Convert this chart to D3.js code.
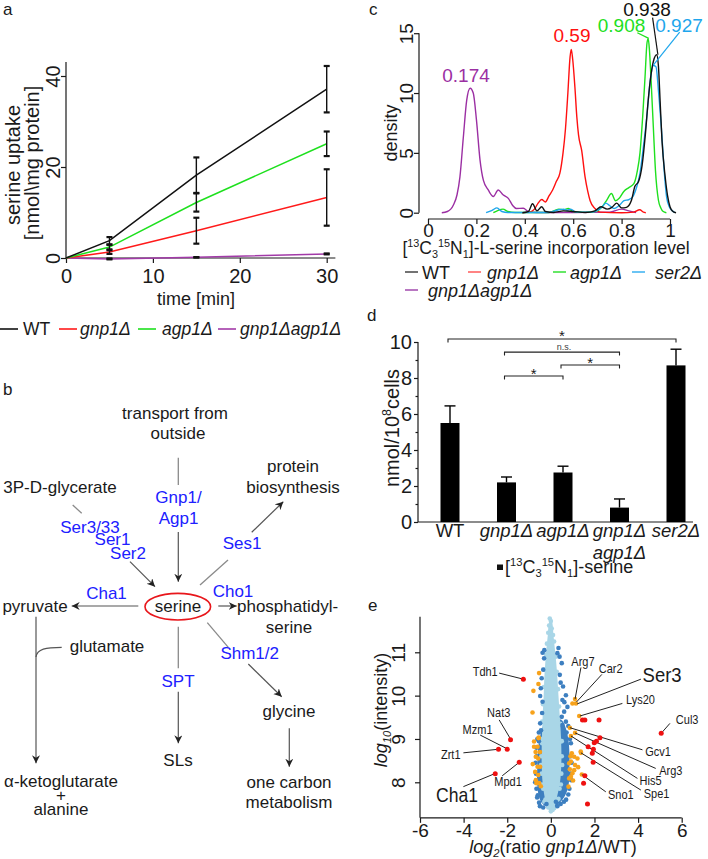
<!DOCTYPE html>
<html><head><meta charset="utf-8">
<script src="https://cdn.jsdelivr.net/npm/d3@7"></script>
<style>
body{margin:0;background:#fff;}
svg{display:block;font-family:"Liberation Sans",Arial,Helvetica,sans-serif;}
</style></head><body>
<svg id="fig" width="708" height="859"></svg>
<script>
// ---------------- DATA ----------------
// panel a: serine uptake time course
const timePoints = [0, 5, 15, 30];
const uptakeNames = ["WT", "gnp1Δ", "agp1Δ", "gnp1Δagp1Δ"];
const uptakeWT = [0, 3.8, 18.2, 37.1];
const uptakeGnp1 = [0, 1.3, 6.0, 13.3];
const uptakeAgp1 = [0, 2.4, 12.2, 25.1];
const uptakeGnp1Agp1 = [0, -0.2, 0.15, 0.9];
const uptakeErrWT = [0, 0.8, 3.9, 5.1];
const uptakeErrGnp1 = [0, 0.4, 2.85, 6.2];
const uptakeErrAgp1 = [0, 0.5, 2.0, 2.7];
const uptakeErrGnp1Agp1 = [0, 0.1, 0.05, 0.1];
const uptakeXTicks = [0, 10, 20, 30];
const uptakeYTicks = [0, 20, 40];

// panel c: density of incorporation level
const densityNames = ["WT", "gnp1Δ", "agp1Δ", "ser2Δ", "gnp1Δagp1Δ"];
const densityWT = [[0.39,0],[0.415,0.1],[0.432,0.75],[0.45,0.15],[0.47,0.5],[0.485,0.1],[0.52,0.02],[0.56,0.15],[0.6,0.1],[0.65,0.02],[0.69,0.15],[0.715,0.5],[0.74,0.3],[0.76,0.45],[0.78,0.8],[0.8,0.4],[0.82,0.45],[0.84,1.0],[0.855,2.2],[0.87,2.6],[0.885,4.0],[0.898,6.5],[0.91,9.4],[0.922,11.6],[0.932,12.7],[0.945,13.2],[0.952,12.3],[0.959,9.4],[0.967,6.0],[0.98,3.0],[0.99,1.4],[1.0,0.5],[1.01,0.15],[1.025,0]];
const densityGnp1 = [[0.39,0],[0.42,0.05],[0.44,0.3],[0.455,0.8],[0.47,1.1],[0.485,0.9],[0.5,1.4],[0.515,1.9],[0.53,2.6],[0.545,3.3],[0.558,5],[0.568,7],[0.578,10],[0.587,13],[0.592,13.65],[0.598,12.8],[0.607,10.5],[0.615,8],[0.622,6.5],[0.635,5.2],[0.649,3.0],[0.66,1.8],[0.67,1.0],[0.69,0.35],[0.71,0.05],[0.8,0.0],[0.85,0.05],[0.875,0.25],[0.89,0.05],[0.9,0]];
const densityAgp1 = [[0.27,0],[0.29,0.2],[0.31,0.3],[0.33,0.1],[0.36,0.02],[0.5,0.02],[0.54,0.3],[0.56,0.25],[0.58,0.35],[0.6,0.1],[0.65,0.03],[0.69,0.1],[0.72,0.5],[0.74,1.1],[0.758,1.6],[0.775,1.0],[0.79,1.2],[0.81,1.8],[0.83,2.1],[0.85,2.4],[0.865,3.5],[0.876,5.0],[0.887,8],[0.897,11.4],[0.905,14.2],[0.91,14.55],[0.915,13.6],[0.922,11],[0.931,7.2],[0.94,3.5],[0.952,1.06],[0.962,0.4],[0.972,0.1],[0.985,0]];
const densitySer2 = [[0.24,0],[0.265,0.2],[0.285,0.4],[0.305,0.1],[0.33,0.02],[0.5,0.02],[0.54,0.25],[0.56,0.3],[0.575,0.2],[0.59,0.3],[0.61,0.05],[0.67,0.05],[0.7,0.2],[0.72,0.5],[0.735,0.8],[0.75,0.6],[0.77,0.35],[0.79,0.6],[0.81,1.0],[0.83,1.1],[0.845,1.3],[0.86,2.0],[0.876,3.3],[0.89,5.5],[0.904,8],[0.917,10.8],[0.931,12.3],[0.942,12.2],[0.953,10],[0.966,6.6],[0.976,3.5],[0.986,1.3],[0.997,0.5],[1.007,0.2],[1.02,0]];
const densityGnp1Agp1 = [[0.057,0],[0.08,0.1],[0.105,0.65],[0.12,1.5],[0.132,3],[0.146,6.3],[0.16,9.4],[0.174,10.4],[0.187,10],[0.2,7.8],[0.215,4.4],[0.229,2.7],[0.249,1.9],[0.27,1.35],[0.29,1.9],[0.31,1.5],[0.332,1.2],[0.35,0.6],[0.365,0.35],[0.394,0.37],[0.415,0.1],[0.45,0.02],[0.6,0.02],[0.75,0.05],[0.8,0.3],[0.83,0.15],[0.86,0.02]];
const densityPeaks = ["0.938", "0.59", "0.908", "0.927", "0.174"];
const densityXTicks = [0, 0.2, 0.4, 0.6, 0.8, 1];
const densityYTicks = [0, 5, 10, 15];

// panel d: labelled serine
const serineStrains = ["WT", "gnp1Δ", "agp1Δ", "gnp1Δagp1Δ", "ser2Δ"];
const serineValues = [5.5, 2.2, 2.75, 0.8, 8.7];
const serineErrors = [0.95, 0.3, 0.35, 0.48, 0.9];
const serineYTicks = [0, 2, 4, 6, 8, 10];
const serineMinorTicks = [1, 3, 5, 7, 9];
const sigTests = [["WT","ser2Δ",10.17,"*"],["gnp1Δ","gnp1Δagp1Δ",9.44,"n.s."],["agp1Δ","gnp1Δagp1Δ",8.72,"*"],["gnp1Δ","agp1Δ",8.11,"*"]];

// panel e: proteome plot
const lightCore = [[-0.02,11.8],[-0.1,11.65],[-0.14,11.4],[-0.2,11.1],[-0.25,10.8],[-0.3,10.4],[-0.33,10.0],[-0.37,9.6],[-0.4,9.2],[-0.42,8.8],[-0.42,8.4],[-0.38,8.0],[-0.3,7.7],[-0.18,7.45],[-0.05,7.35],[0.05,7.32],[0.18,7.45],[0.3,7.7],[0.42,8.0],[0.48,8.4],[0.48,8.8],[0.45,9.2],[0.4,9.6],[0.35,10.0],[0.3,10.4],[0.24,10.8],[0.18,11.1],[0.12,11.4],[0.08,11.65],[0.02,11.8]];
const darkBand = [[-0.35,9.3],[-0.48,9.1],[-0.58,8.8],[-0.62,8.4],[-0.63,8.0],[-0.58,7.75],[-0.45,7.55],[-0.25,7.45],[0.1,7.42],[0.35,7.5],[0.6,7.65],[0.8,7.9],[0.85,8.3],[0.85,8.7],[0.8,9.0],[0.65,9.3],[0.45,9.45]];
const lightPts = [[-0.05,11.78],[0.0,11.72],[-0.08,11.62],[0.04,11.55],[-0.12,11.45],[0.1,11.4],[-0.18,11.2],[0.15,11.25],[-0.22,10.95],[0.22,10.9],[-0.28,10.6],[0.27,10.55],[-0.32,10.2],[0.33,10.15],[-0.36,9.8],[0.38,9.75],[-0.4,9.4],[0.43,9.35],[-0.43,9.0],[0.47,8.95],[-0.44,8.6],[0.5,8.6],[-0.42,8.2],[0.48,8.2],[-0.35,7.85],[0.4,7.85],[-0.25,7.6],[0.3,7.6],[-0.12,7.42],[0.15,7.4],[0.0,7.33],[0.08,7.36],[-0.4,8.9],[-0.45,8.4],[-0.41,7.95],[0.5,8.95],[0.52,8.4],[0.46,7.95],[-0.3,7.55],[0.35,7.62]];
const darkPts = [[-0.38,10.99],[-0.31,10.86],[-0.3,11.05],[-0.35,10.6],[-0.42,10.4],[-0.46,10.17],[-0.49,9.99],[-0.38,9.86],[-0.4,9.6],[-0.49,9.36],[-0.45,9.2],[-0.55,8.95],[-0.65,8.6],[-0.68,8.2],[-0.66,7.85],[-0.54,7.53],[-0.6,7.7],[0.3,10.98],[0.35,11.1],[0.4,10.9],[0.5,10.75],[0.41,10.48],[0.45,10.3],[0.56,10.21],[0.69,10.01],[0.53,9.9],[0.62,9.85],[0.76,9.74],[0.61,9.63],[0.5,9.51],[0.69,9.4],[0.8,9.3],[0.53,9.32],[0.88,9.0],[0.9,8.6],[0.9,8.2],[0.85,7.85],[0.7,7.6],[0.23,7.55],[0.45,7.5],[-0.2,7.5],[-0.62,9.0],[-0.66,8.8],[-0.7,8.45],[-0.72,8.0],[-0.63,7.65],[-0.5,7.45],[0.92,8.9],[0.95,8.45],[0.93,8.05],[0.8,7.72],[0.6,7.55],[0.3,7.45],[-0.35,7.42],[0.72,9.15],[-0.55,9.15]];
const orangePts = [[-0.54,10.52],[-0.57,10.27],[-0.8,10.11],[-0.84,9.61],[-0.57,9.02],[-0.77,8.94],[-0.61,8.82],[-0.69,8.59],[-0.58,8.55],[-0.83,8.42],[-0.49,8.36],[-0.58,8.17],[-0.69,8.05],[-0.54,7.98],[-0.46,7.91],[-0.77,8.82],[-0.72,8.24],[-0.61,8.36],[-0.66,7.98],[-0.55,9.03],[-0.5,8.7],[-0.7,8.7],[0.99,9.82],[1.15,9.82],[1.11,9.92],[1.3,9.53],[0.87,9.26],[1.11,9.14],[0.92,9.07],[1.38,8.68],[0.96,8.67],[1.07,8.59],[1.22,8.55],[0.92,8.48],[1.11,8.4],[0.87,8.3],[0.99,8.21],[1.42,8.18],[0.84,8.09],[1.02,8.04],[0.81,7.9],[1.37,8.71],[0.84,8.44],[1.07,8.28],[0.92,8.13],[0.9,8.6],[1.25,8.35]];
const redPts = [[-1.26,10.38],[-1.85,8.98],[-2.0,8.76],[-2.4,8.76],[-1.45,8.46],[-2.55,8.2],[1.45,9.44],[1.56,9.44],[2.21,9.44],[2.25,9.03],[2.09,8.95],[1.99,8.91],[1.71,8.82],[1.95,8.76],[1.9,8.67],[1.94,8.46],[1.56,8.15],[1.5,7.98],[1.68,7.5],[5.06,9.13]];
const proteinNames = ["Tdh1","Nat3","Mzm1","Zrt1","Mpd1","Cha1","Arg7","Car2","Ser3","Lys20","Cul3","Gcv1","Arg3","His5","Spe1","Sno1"];
const volcanoXTicks = [-6, -4, -2, 0, 2, 4, 6];
const volcanoYTicks = [8, 9, 10, 11];

// ---------------- LAYOUT / STYLE ----------------
const INK = "#1a1a1a";
const FONT = '"Liberation Sans", Arial, Helvetica, sans-serif';
const svg = d3.select("#fig");
svg.append("rect").attr("width", 708).attr("height", 859).attr("fill", "#fff");

function label(parent, x, y, parts, o = {}) {
  const size = o.size || 16;
  const t = parent.append("text").attr("font-size", size).attr("fill", o.fill || INK)
    .attr("text-anchor", o.anchor || "start");
  let tf = `translate(${x},${y})`;
  if (o.sx && o.sx !== 1) tf += ` scale(${o.sx},1)`;
  if (o.rot) tf += ` rotate(${o.rot})`;
  t.attr("transform", tf);
  if (o.italic) t.attr("font-style", "italic");
  if (typeof parts === "string") parts = [{t: parts}];
  let cur = 0;
  parts.forEach(p => {
    const target = p.sup ? -0.38 * size : p.sub ? 0.22 * size : 0;
    const ts = t.append("tspan").text(p.t);
    if (target - cur !== 0) ts.attr("dy", target - cur);
    if (p.sup || p.sub) ts.attr("font-size", size * 0.62);
    if (p.i) ts.attr("font-style", "italic");
    cur = target;
  });
  return t;
}
function styleAxis(g, size) {
  g.attr("font-size", size).attr("font-family", FONT).style("color", INK);
  g.select(".domain").remove();
  g.selectAll(".tick line").attr("stroke-width", 1.2);
}
function line(parent, x1, y1, x2, y2, stroke, w) {
  return parent.append("line").attr("x1", x1).attr("y1", y1).attr("x2", x2).attr("y2", y2)
    .attr("stroke", stroke || INK).attr("stroke-width", w || 1.2);
}

// panel letters
[["a",3,15],["b",3,395],["c",369,15],["d",367,321],["e",368,611]].forEach(d =>
  label(svg, d[1], d[2], d[0], {size: 17}));

// ================= PANEL A =================
{
  const g = svg.append("g");
  const x = d3.scaleLinear().domain([0, 30]).range([66, 326.7]);
  const y = d3.scaleLinear().domain([0, 40]).range([258, 76]);
  const colors = ["#111111", "#ff1a1a", "#1ee01e", "#a23aa8"];
  const series = [uptakeWT, uptakeGnp1, uptakeAgp1, uptakeGnp1Agp1];
  const errs = [uptakeErrWT, uptakeErrGnp1, uptakeErrAgp1, uptakeErrGnp1Agp1];

  const ax = g.append("g").attr("transform", `translate(0,${y(0)})`)
    .call(d3.axisBottom(x).tickValues(uptakeXTicks).tickSize(5).tickPadding(6));
  styleAxis(ax, 20);
  const ay = g.append("g").attr("transform", `translate(${x(0)},0)`)
    .call(d3.axisLeft(y).tickValues(uptakeYTicks).tickSize(5));
  styleAxis(ay, 20);
  ay.selectAll("text").attr("x", 0).attr("y", -6).attr("dy", null)
    .attr("transform", "rotate(-90)").attr("text-anchor", "middle");
  line(g, x(0), y(0), x(0), y(43.1));
  line(g, x(0), y(0), x(31), y(0));

  const ln = d3.line().x((d, i) => x(timePoints[i])).y(d => y(d));
  [3, 1, 2, 0].forEach(k => {
    g.append("path").attr("d", ln(series[k])).attr("fill", "none")
      .attr("stroke", colors[k]).attr("stroke-width", 1.5);
  });
  [3, 1, 2, 0].forEach(k => {
    series[k].forEach((v, i) => {
      if (i === 0) return;
      const e = errs[k][i], cx = x(timePoints[i]);
      line(g, cx, y(v - e), cx, y(v + e), "#111", 1.4);
      line(g, cx - 3, y(v - e), cx + 3, y(v - e), "#111", 2.2);
      line(g, cx - 3, y(v + e), cx + 3, y(v + e), "#111", 2.2);
    });
  });
  label(g, 196, 305, "time [min]", {size: 18, anchor: "middle"});
  label(g, 20, 165, "serine uptake", {size: 20, anchor: "middle", rot: -90});
  label(g, 39, 163, "[nmol\\mg protein]", {size: 20, anchor: "middle", rot: -90});

  const legLineX = [0, 59, 138, 218], legTextX = [23, 80, 162, 240];
  uptakeNames.forEach((n, k) => {
    line(g, legLineX[k], 329, legLineX[k] + 18, 329, colors[k], 1.6);
    label(g, legTextX[k], 335, [{t: n, i: k > 0}], {size: 17.5});
  });
}

// ================= PANEL B (pathway) =================
{
  const g = svg.append("g");
  const defs = svg.append("defs");
  defs.append("marker").attr("id", "arr").attr("markerUnits", "userSpaceOnUse")
    .attr("markerWidth", 10).attr("markerHeight", 10).attr("refX", 8).attr("refY", 4)
    .attr("orient", "auto")
    .append("path").attr("d", "M0,0 L8,4 L0,8 L2.5,4 Z").attr("fill", "#222");
  const pathwayNodes = [
    ["transport from",175,413],["outside",178,433],["3P-D-glycerate",60,487],
    ["protein",293,466],["biosynthesis",293,487],["pyruvate",35,606],["serine",178,606],
    ["phosphatidyl-",237,606,"start"],["serine",289,627],["glutamate",107,646],
    ["SLs",178,760],["glycine",289,711],["one carbon",289,782],["metabolism",289,802],
    ["α-ketoglutarate",61,781],["+",61,795],["alanine",61,809]];
  const pathwayEnzymes = [
    ["Gnp1/",178.5,497],["Agp1",178.5,518],["Ser3/33",90,527],["Ser1",112.5,539],["Ser2",128,553],
    ["Ses1",242,543],["Cha1",106.5,593],["Cho1",233,591],["SPT",178,681],["Shm1/2",249.7,653]];
  const plainLinks = [[178.3,457.7,178.3,485],[72.7,505,81.7,513.3],[200,585,228,560],
    [178.3,626.7,178.3,668.3],[207.3,622.7,228.3,647.3]];
  const arrowLinks = [[178.3,532,178.3,581.7],[130,561.7,155,586.7],[251.7,532.3,283.3,501.7],
    [138.3,606,71.7,606],[218.3,606,236.7,606],[36,616.7,36,763.3],[178.3,691.7,178.3,743.3],
    [248.3,664,281.7,696.7],[289.3,728.3,289.3,766.7]];
  plainLinks.forEach(d => line(g, d[0], d[1], d[2], d[3], "#8a8a8a", 1.3));
  arrowLinks.forEach(d => line(g, d[0], d[1], d[2], d[3], "#555", 1.2).attr("marker-end", "url(#arr)"));
  g.append("path").attr("d", "M61.7,647.3 C46,647.3 37,649 36,657").attr("fill", "none")
    .attr("stroke", "#555").attr("stroke-width", 1.2);
  g.append("ellipse").attr("cx", 177.8).attr("cy", 606.7).attr("rx", 32.8).attr("ry", 13.3)
    .attr("fill", "none").attr("stroke", "#e8161b").attr("stroke-width", 1.6);
  pathwayNodes.forEach(d => label(g, d[1], d[2], d[0], {size: 17, anchor: d[3] || "middle"}).attr("dy", "0.35em"));
  pathwayEnzymes.forEach(d => label(g, d[1], d[2], d[0], {size: 17, anchor: "middle", fill: "#2020ff"}).attr("dy", "0.35em"));
}

// ================= PANEL C =================
{
  const g = svg.append("g");
  const x = d3.scaleLinear().domain([0, 1]).range([428, 670]);
  const y = d3.scaleLinear().domain([0, 15]).range([212.7, 33.2]);
  const colors = ["#111111", "#ff1010", "#1ee01e", "#1ea6ec", "#9b2fa3"];
  const legColors = ["#444", "#ff5a5a", "#33e033", "#3ab0f0", "#a24aae"];
  const series = [densityWT, densityGnp1, densityAgp1, densitySer2, densityGnp1Agp1];

  const ax = g.append("g").attr("transform", "translate(0,219)")
    .call(d3.axisBottom(x).tickValues(densityXTicks).tickSize(5).tickPadding(0).tickFormat(d3.format("")));
  styleAxis(ax, 19);
  const ay = g.append("g").attr("transform", "translate(419,0)")
    .call(d3.axisLeft(y).tickValues(densityYTicks).tickSize(5));
  styleAxis(ay, 19);
  ay.selectAll("text").attr("x", 0).attr("y", -6).attr("dy", null)
    .attr("transform", "rotate(-90)").attr("text-anchor", "middle");
  line(g, 419, y(0), 419, y(15));
  line(g, x(0), 219, x(1), 219);

  const ln = d3.line().x(d => x(d[0])).y(d => y(d[1])).curve(d3.curveMonotoneX);
  [4, 1, 2, 3, 0].forEach(k => g.append("path").attr("d", ln(series[k])).attr("fill", "none")
    .attr("stroke", colors[k]).attr("stroke-width", 1.4));

  const peakLabelPos = [[647,15.5],[572,42],[621.5,32],[679,32],[466,82]];
  densityPeaks.forEach((p, k) => label(g, peakLabelPos[k][0], peakLabelPos[k][1], p, {size: 19, anchor: "middle", fill: colors[k]}));
  const leaders = [[0, 0.928, 16.3, 0.95, 13.2], [2, 0.865, 15.04, 0.912, 14.57], [3, 1.04, 15.1, 0.931, 12.33]];
  leaders.forEach(d => line(g, x(d[1]), y(d[2]), x(d[3]), y(d[4]), colors[d[0]], 1.2));

  label(g, 0, 0, "density", {size: 18, anchor: "middle"}).attr("transform", "translate(397,133) rotate(-90)");
  label(g, 546, 254, [{t:"["},{t:"13",sup:true},{t:"C"},{t:"3",sub:true},{t:"15",sup:true},{t:"N"},{t:"1",sub:true},{t:"]-L-serine incorporation level"}], {size: 17.5, anchor: "middle"});

  const legPos = [[405,422,272],[468,487,272],[553,570,272],[632,655,272],[405,428,290]];
  densityNames.forEach((n, k) => {
    const p = legPos[k];
    line(g, p[0], p[2], p[0] + 13, p[2], legColors[k], 1.5);
    label(g, p[1], p[2] + 6.5, [{t: n, i: k > 0}], {size: 18});
  });
}

// ================= PANEL D =================
{
  const g = svg.append("g");
  const x = d3.scalePoint().domain(serineStrains).range([450, 676]);
  const y = d3.scaleLinear().domain([0, 10]).range([522, 342]);
  const bw = 19;
  const ay = g.append("g").attr("transform", "translate(418,0)")
    .call(d3.axisLeft(y).tickValues(serineYTicks).tickSize(4).tickPadding(2));
  styleAxis(ay, 20);
  const ay2 = g.append("g").attr("transform", "translate(418,0)")
    .call(d3.axisLeft(y).tickValues(serineMinorTicks).tickSize(2.5).tickFormat(""));
  styleAxis(ay2, 10);
  line(g, 418, y(0), 418, y(10));
  line(g, 418, y(0), 693, y(0));

  serineStrains.forEach((s, i) => {
    const cx = x(s);
    g.append("rect").attr("x", cx - bw / 2).attr("y", y(serineValues[i]))
      .attr("width", bw).attr("height", y(0) - y(serineValues[i])).attr("fill", "#000");
    const top = y(serineValues[i] + serineErrors[i]);
    line(g, cx, y(serineValues[i]), cx, top, "#000", 1.4);
    line(g, cx - 5.5, top, cx + 5.5, top, "#000", 1.4);
  });
  const catLines = [["WT"],["gnp1Δ"],["agp1Δ"],["gnp1Δ","agp1Δ"],["ser2Δ"]];
  serineStrains.forEach((s, i) => {
    catLines[i].forEach((t, j) => label(g, x(s), 537 + j * 22, [{t, i: s !== "WT"}], {size: 18.5, anchor: "middle"}));
  });
  sigTests.forEach(d => {
    const x1 = x(d[0]) - 2, x2 = x(d[1]), yy = y(d[2]);
    g.append("path").attr("d", `M${x1},${yy + 3.5} V${yy} H${x2} V${yy + 3.5}`)
      .attr("fill", "none").attr("stroke", "#222").attr("stroke-width", 1.1);
    if (d[3] === "*") label(g, (x1 + x2) / 2, yy + 2.5, "*", {size: 15, anchor: "middle"});
    else label(g, (x1 + x2) / 2 + 2, yy - 2, d[3], {size: 9, anchor: "middle", fill: "#444"});
  });
  label(g, 0, 0, [{t:"nmol/10"},{t:"8",sup:true},{t:"cells"}], {size: 20, anchor: "middle"})
    .attr("transform", "translate(399,428) rotate(-90)");
  g.append("rect").attr("x", 497).attr("y", 564.5).attr("width", 6).attr("height", 5.5).attr("fill", "#111");
  label(g, 505, 573, [{t:"["},{t:"13",sup:true},{t:"C"},{t:"3",sub:true},{t:"15",sup:true},{t:"N"},{t:"1",sub:true},{t:"]-serine"}], {size: 18});
}

// ================= PANEL E =================
{
  const g = svg.append("g");
  const x = d3.scaleLinear().domain([-6, 6]).range([420, 681.7]);
  const y = d3.scaleLinear().domain([8, 11]).range([782.3, 652.3]);
  const ax = g.append("g").attr("transform", `translate(0,${y(7.18)})`)
    .call(d3.axisBottom(x).tickValues(volcanoXTicks).tickSize(5).tickPadding(1).tickFormat(d => String(d)));
  styleAxis(ax, 19);
  const ay = g.append("g").attr("transform", "translate(420,0)")
    .call(d3.axisLeft(y).tickValues(volcanoYTicks).tickSize(5).tickFormat(d => String(d)));
  styleAxis(ay, 19);
  ay.selectAll("text").attr("x", 0).attr("y", -15).attr("dy", null)
    .attr("transform", "rotate(-90)").attr("text-anchor", "middle");
  line(g, 420, y(7.18), 420, y(11.82));
  line(g, 420, y(7.18), x(6), y(7.18));

  const poly = d3.line().x(d => x(d[0])).y(d => y(d[1])).curve(d3.curveCatmullRomClosed);
  g.append("path").attr("d", poly(darkBand)).attr("fill", "#3d7fc0");
  g.append("path").attr("d", poly(lightCore)).attr("fill", "#a9d6e7");
  const dots = (pts, fill, r) => g.append("g").selectAll("circle").data(pts).join("circle")
    .attr("cx", d => x(d[0])).attr("cy", d => y(d[1])).attr("r", r).attr("fill", fill);
  dots(lightPts, "#a9d6e7", 2.3);
  dots(darkPts, "#3d7fc0", 2.3);
  dots(orangePts, "#f7a21b", 2.3);

  const annot = [
    ["Tdh1",-3.01,10.55,-2.37,10.52,-1.26,10.38,12.5],["Nat3",-2.39,9.6,-2.37,9.44,-1.85,9.0,12.5],
    ["Mzm1",-3.36,9.23,-3.24,9.09,-2.03,8.78,12.5],["Zrt1",-4.59,8.65,-4.01,8.68,-2.45,8.76,12.5],
    ["Mpd1",-1.96,8.01,-2.23,8.15,-1.48,8.45,12.5],["Cha1",-4.3,7.71,-4.01,7.9,-2.57,8.2,20],
    ["Arg7",1.47,10.78,1.38,10.65,1.11,9.92,12.5],["Car2",2.74,10.63,2.34,10.49,1.17,9.85,12.5],
    ["Ser3",5.1,10.5,4.13,10.38,1.21,9.81,21],["Lys20",4.11,9.92,3.28,9.82,1.33,9.53,12.5],
    ["Cul3",6.25,9.44,5.46,9.36,5.06,9.13,12.5],["Gcv1",4.92,8.71,4.2,8.75,0.87,9.26,12.5],
    ["Arg3",5.5,8.27,4.81,8.32,1.11,9.14,12.5],["His5",4.57,8.05,3.97,8.09,0.92,9.07,12.5],
    ["Spe1",4.85,7.75,4.13,7.82,1.38,8.68,12.5],["Sno1",3.21,7.71,2.52,7.78,1.42,8.18,12.5]];
  annot.forEach(a => line(g, x(a[3]), y(a[4]), x(a[5]), y(a[6]), "#222", 1));
  dots(redPts, "#ee1111", 2.5);
  proteinNames.forEach(n => {
    const a = annot.find(d => d[0] === n);
    label(g, x(a[1]), y(a[2]) + a[7] * 0.36, n, {size: a[7], anchor: "middle", sx: 0.88});
  });

  label(g, 553, 853, [{t:"log",i:true},{t:"2",sub:true,i:true},{t:"(ratio "},{t:"gnp1Δ",i:true},{t:"/WT)"}], {size: 18, anchor: "middle"});
  label(g, 0, 0, [{t:"log",i:true},{t:"10",sub:true,i:true},{t:"(intensity)"}], {size: 18, anchor: "middle"})
    .attr("transform", "translate(387,710) rotate(-90)");
}
</script></body></html>
